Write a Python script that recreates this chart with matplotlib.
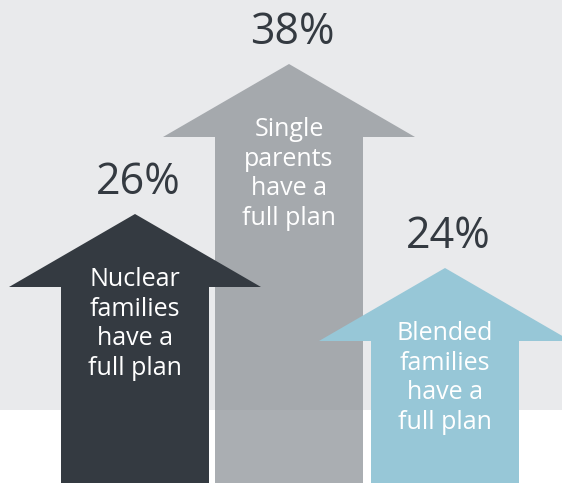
import numpy as np
import matplotlib.pyplot as plt
from matplotlib.patches import Polygon, Rectangle

# Data
groups = ["Nuclear\nfamilies\nhave a\nfull plan",
          "Single\nparents\nhave a\nfull plan",
          "Blended\nfamilies\nhave a\nfull plan"]
values = [26, 38, 24]
colors = ["#343a41", "#8e9398", "#97c7d7"]
alphas = [1.0, 0.75, 1.0]
centers = [135, 289, 445]
draw_order = [1, 0, 2]

# uneven value scale (percent -> pixels from bottom), infographic style
pct_knots = [0, 24, 26, 38, 50]
px_knots = [0, 215, 269, 419, 569]


def fwd(v):
    return np.interp(v, pct_knots, px_knots)


def inv(p):
    return np.interp(p, px_knots, pct_knots)


W, H = 562, 483
fig = plt.figure(figsize=(W / 100, H / 100), dpi=100)
ax = fig.add_axes([0, 0, 1, 1])
ax.set_yscale("function", functions=(fwd, inv))
ax.set_xlim(0, W)
ax.set_ylim(0, inv(H))
ax.axis("off")

bg = "#e9eaec"
ax.add_patch(Rectangle((0, 73 / H), 1, 1, transform=ax.transAxes,
                       facecolor=bg, edgecolor="none", zorder=0))

head_w = 126
shaft_w = 74
head_h = 73

plt.rcParams["font.family"] = ["Open Sans", "DejaVu Sans"]

for z, i in enumerate(draw_order):
    xc = centers[i]
    v = values[i]
    base = inv(fwd(v) - head_h)
    pts = [(xc, v), (xc + head_w, base), (xc + shaft_w, base), (xc + shaft_w, 0),
           (xc - shaft_w, 0), (xc - shaft_w, base), (xc - head_w, base)]
    ax.add_patch(Polygon(pts, closed=True, facecolor=colors[i], alpha=alphas[i],
                         edgecolor="none", zorder=2 + z))
    ax.text(xc + 3, inv(fwd(v) + 31), f"{v}%", ha="center", va="center",
            fontsize=31, color="#343a41", zorder=10)
    ax.text(xc, inv(fwd(v) - 110), groups[i], ha="center", va="center",
            fontsize=18, color="white", linespacing=1.26, zorder=10)

fig.savefig("out.png", dpi=100, facecolor="white")
